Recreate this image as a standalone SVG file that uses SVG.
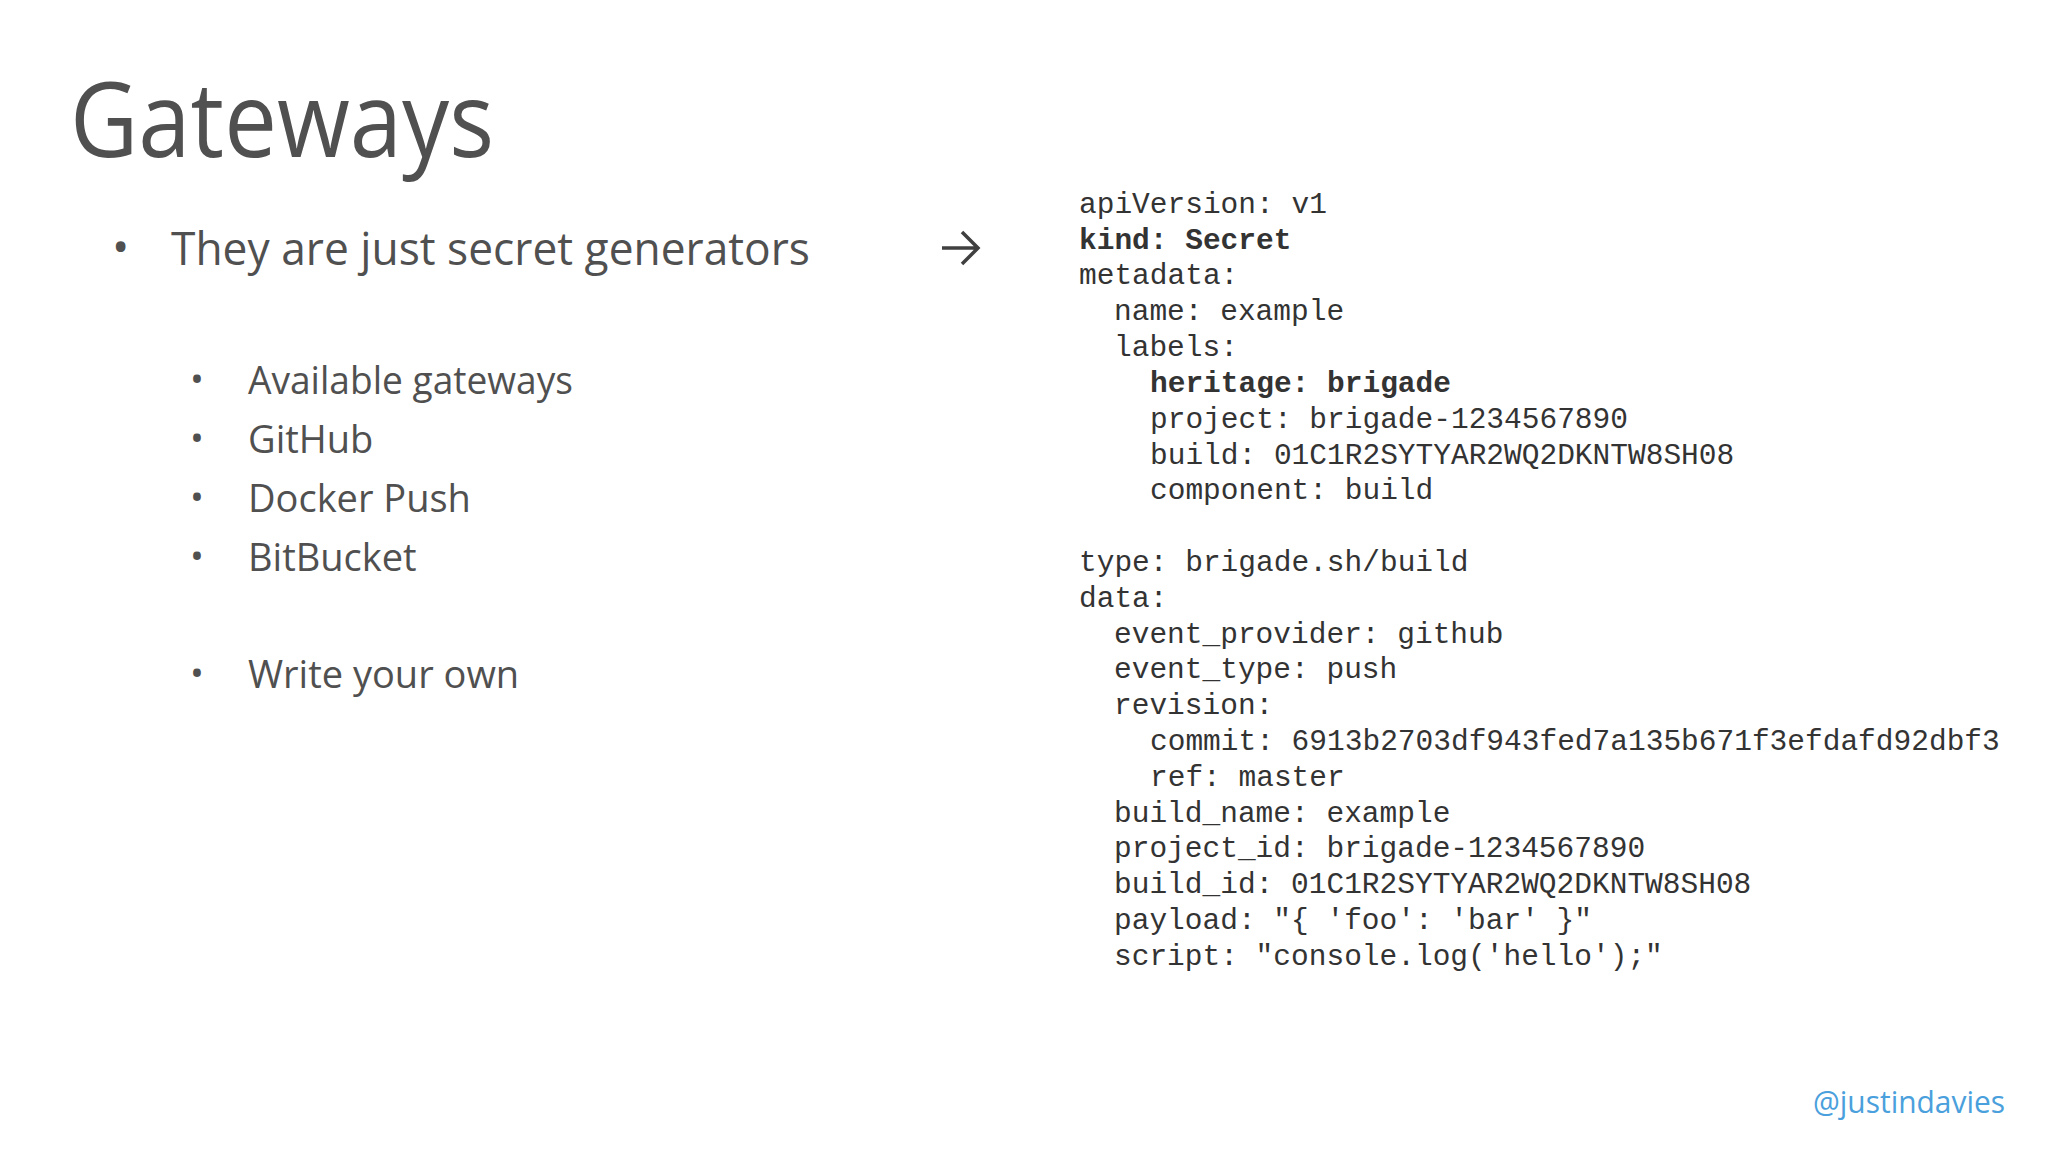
<svg xmlns="http://www.w3.org/2000/svg" width="2048" height="1152" viewBox="0 0 2048 1152">
<style>
.t{font-family:"Open Sans","Liberation Sans",sans-serif;fill:#505050}
.c{font-family:"Liberation Mono","DejaVu Sans Mono",monospace;font-size:29.5px;fill:#333}
.b{font-weight:bold}
</style>
<rect width="2048" height="1152" fill="#fff"/>
<g id="title"><text class="t" x="70" y="157" font-size="104" textLength="424" lengthAdjust="spacingAndGlyphs">Gateways</text></g>
<g id="bullets">
<text class="t" x="112" y="263" font-size="46">•</text>
<text class="t" x="171" y="265" font-size="46" textLength="639" lengthAdjust="spacingAndGlyphs">They are just secret generators</text>
<text class="t" x="190" y="392" font-size="37">•</text>
<text class="t" x="248" y="394" font-size="38" textLength="325" lengthAdjust="spacingAndGlyphs">Available gateways</text>
<text class="t" x="190" y="451" font-size="37">•</text>
<text class="t" x="248" y="453" font-size="38">GitHub</text>
<text class="t" x="190" y="510" font-size="37">•</text>
<text class="t" x="248" y="512" font-size="38">Docker Push</text>
<text class="t" x="190" y="569" font-size="37">•</text>
<text class="t" x="248" y="571" font-size="38">BitBucket</text>
<text class="t" x="190" y="686" font-size="37">•</text>
<text class="t" x="248" y="688" font-size="38">Write your own</text>
</g>
<g id="arrow"><path d="M942 248H978M962 232L978 248L962 264" fill="none" stroke="#404040" stroke-width="3.5"/></g>
<g id="code">
<text class="c" x="1079" y="213">apiVersion: v1</text>
<text class="c b" x="1079" y="249">kind: Secret</text>
<text class="c" x="1079" y="284">metadata:</text>
<text class="c" x="1114" y="320">name: example</text>
<text class="c" x="1114" y="356">labels:</text>
<text class="c b" x="1150" y="392">heritage: brigade</text>
<text class="c" x="1150" y="428">project: brigade-1234567890</text>
<text class="c" x="1150" y="464">build: 01C1R2SYTYAR2WQ2DKNTW8SH08</text>
<text class="c" x="1150" y="499">component: build</text>
<text class="c" x="1079" y="571">type: brigade.sh/build</text>
<text class="c" x="1079" y="607">data:</text>
<text class="c" x="1114" y="643">event_provider: github</text>
<text class="c" x="1114" y="678">event_type: push</text>
<text class="c" x="1114" y="714">revision:</text>
<text class="c" x="1150" y="750">commit: 6913b2703df943fed7a135b671f3efdafd92dbf3</text>
<text class="c" x="1150" y="786">ref: master</text>
<text class="c" x="1114" y="822">build_name: example</text>
<text class="c" x="1114" y="857">project_id: brigade-1234567890</text>
<text class="c" x="1114" y="893">build_id: 01C1R2SYTYAR2WQ2DKNTW8SH08</text>
<text class="c" x="1114" y="929">payload: "{ 'foo': 'bar' }"</text>
<text class="c" x="1114" y="965">script: "console.log('hello');"</text>
</g>
<g id="handle"><text x="1813" y="1113" font-family="Open Sans,Liberation Sans,sans-serif" font-size="31" fill="#4aa0dc" textLength="192" lengthAdjust="spacingAndGlyphs">@justindavies</text></g>
</svg>
